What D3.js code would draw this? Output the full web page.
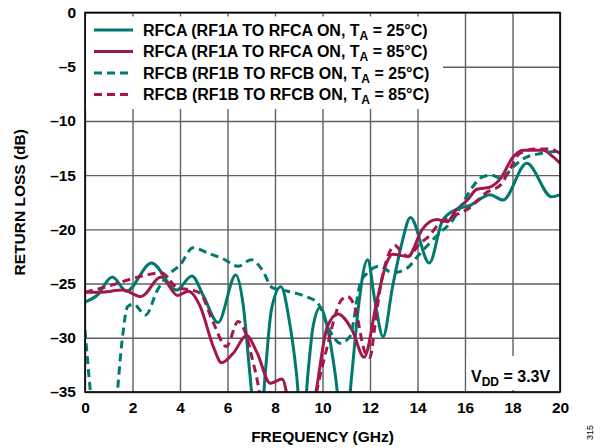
<!DOCTYPE html>
<html>
<head>
<meta charset="utf-8">
<script src="https://cdn.jsdelivr.net/npm/d3@7"></script>
<style>
  body { margin: 0; background: #fff; }
  svg text { font-family: "Liberation Sans", Arial, sans-serif; font-weight: bold; fill: #000; }
</style>
</head>
<body>
<script>
// Return loss vs frequency
const xTicks = [0, 2, 4, 6, 8, 10, 12, 14, 16, 18, 20];
const yTicks = [0, -5, -10, -15, -20, -25, -30, -35];

const legendNames = [
  'RFCA (RF1A TO RFCA ON, T',
  'RFCA (RF1A TO RFCA ON, T',
  'RFCB (RF1B TO RFCB ON, T',
  'RFCB (RF1B TO RFCB ON, T'
];
const legendTemps = ['25', '85', '25', '85'];

// [GHz, dB]; points below -35 are only there to shape the clipped dips
const rfcaOn25 = [
  [0, -26.7], [0.5, -26.1], [1.15, -24.4], [1.75, -25.7], [2.8, -23.1], [3.85, -25.6],
  [4.5, -24.3], [5.0, -26.2], [5.6, -28.6], [6.35, -24.2], [6.65, -26.8], [6.95, -33.5],
  [7.3, -41], [7.6, -33], [7.85, -27.4], [8.25, -25.3], [8.6, -28.4], [8.9, -33.2],
  [9.15, -39], [9.4, -33], [9.6, -29], [9.9, -27.2], [10.2, -29], [10.55, -33.6],
  [10.9, -40], [11.25, -33], [11.5, -27.4], [11.9, -22.8], [12.2, -26.5], [12.55, -29.9],
  [12.95, -25.3], [13.35, -21.2], [13.7, -18.9], [14.5, -23.1], [15.05, -19.2],
  [15.6, -18.2], [16.2, -17.8], [17.05, -16.8], [17.6, -17.3], [18.6, -13.9],
  [19.65, -17.0], [20, -16.8]
];
const rfcaOn85 = [
  [0, -25.8], [0.6, -25.8], [1.6, -25.6], [2.35, -26.2], [3.2, -24.4], [3.9, -26.1],
  [4.35, -25.7], [4.85, -27.1], [5.4, -30.8], [5.75, -32.3], [6.25, -31.4], [6.8, -29.8],
  [7.25, -31.4], [7.8, -34.2], [8.3, -33.8], [8.7, -37.5], [9.2, -40], [9.7, -35.3],
  [10.2, -29.0], [10.65, -27.8], [11.25, -29.3], [11.75, -31.8], [12.3, -26.5],
  [12.7, -23.1], [12.95, -22.3], [13.6, -22.5], [14.2, -20.0], [14.8, -19.1],
  [15.25, -19.3], [15.6, -18.3], [16.1, -17.3], [16.5, -16.3], [17.05, -16.1],
  [17.5, -15.3], [18.0, -13.4], [18.45, -12.7], [19.3, -12.7], [19.7, -13.3], [20, -13.9]
];
const rfcbOn25 = [
  [0, -29.3], [0.25, -35.5], [0.8, -45], [1.35, -35.3], [1.55, -30.5], [1.8, -27.1],
  [2.05, -26.9], [2.55, -27.9], [3.05, -25.6], [3.5, -24.2], [4.0, -23.3], [4.55, -21.7],
  [5.2, -22.2], [5.8, -22.7], [6.45, -23.4], [7.0, -22.8], [7.45, -23.7], [7.9, -25.4],
  [8.3, -25.6], [8.9, -25.9], [9.3, -26.2], [9.8, -26.8], [10.3, -29.3], [10.75, -30.5],
  [11.15, -29.9], [11.6, -24.9], [11.9, -24.0], [12.4, -23.4], [12.95, -24.0],
  [13.55, -23.6], [14.0, -22.5], [14.5, -21.3], [15.0, -20.2], [15.4, -19.4],
  [15.95, -17.4], [16.35, -16.0], [16.7, -15.2], [17.1, -15.0], [17.55, -15.3],
  [18.0, -14.3], [18.45, -13.5], [19.2, -13.0], [20, -12.8]
];
const rfcbOn85 = [
  [0, -25.8], [1.2, -25.1], [1.9, -24.6], [2.6, -24.2], [3.2, -24.0], [3.9, -25.4],
  [4.5, -25.6], [4.85, -25.9], [5.4, -28.6], [5.95, -30.8], [6.45, -28.5], [6.75, -29.5],
  [7.05, -32.0], [7.25, -33.9], [7.5, -37], [8.5, -42], [9.5, -38], [9.8, -34.5],
  [10.2, -30.8], [10.45, -28.6], [10.8, -26.5], [11.05, -26.2], [11.35, -27.1],
  [11.8, -31.4], [12.0, -31.8], [12.2, -29.0], [12.4, -25.8], [12.75, -22.5],
  [13.05, -21.5], [13.3, -22.0], [13.6, -22.5], [14.1, -21.3], [14.5, -20.6],
  [14.85, -19.6], [15.4, -18.9], [16.2, -18.0], [16.9, -16.6], [17.5, -15.9],
  [17.9, -14.4], [18.3, -13.0], [18.95, -12.6], [19.6, -12.6], [20, -13.0]
];

const TEAL = '#00796F';
const CRIMSON = '#A3184B';

const series = [
  { data: rfcaOn25, color: TEAL, dash: null },
  { data: rfcaOn85, color: CRIMSON, dash: null },
  { data: rfcbOn25, color: TEAL, dash: '8,5' },
  { data: rfcbOn85, color: CRIMSON, dash: '8,5' }
];

const plotLeft = 85, plotRight = 560, plotTop = 12.5, plotBottom = 392;

const x = d3.scaleLinear().domain([0, 20]).range([plotLeft, plotRight]);
const y = d3.scaleLinear().domain([0, -35]).range([plotTop, plotBottom]);

const svg = d3.select('body').append('svg')
  .attr('width', 600)
  .attr('height', 448);

// grid
const gx = svg.append('g')
  .attr('transform', 'translate(0,' + plotBottom + ')')
  .call(d3.axisBottom(x).tickValues(xTicks).tickSize(-(plotBottom - plotTop)).tickFormat(''));
const gy = svg.append('g')
  .attr('transform', 'translate(' + plotLeft + ',0)')
  .call(d3.axisLeft(y).tickValues(yTicks).tickSize(-(plotRight - plotLeft)).tickFormat(''));
[gx, gy].forEach(g => {
  g.select('.domain').remove();
  g.selectAll('line').attr('stroke', '#5f5f5f').attr('stroke-width', 1.4);
});

// white boxes behind legend and supply note
svg.append('rect').attr('x', plotLeft + 1).attr('y', 16.5).attr('width', 357).attr('height', 92.5).attr('fill', '#fff');
svg.append('rect').attr('x', 466.5).attr('y', 356).attr('width', 93).attr('height', 34).attr('fill', '#fff');

// curves
svg.append('clipPath').attr('id', 'plot')
  .append('rect').attr('x', plotLeft).attr('y', plotTop)
  .attr('width', plotRight - plotLeft).attr('height', plotBottom - plotTop);

const line = d3.line()
  .x(d => x(d[0]))
  .y(d => y(d[1]))
  .curve(d3.curveMonotoneX);

svg.append('g').attr('clip-path', 'url(#plot)')
  .selectAll('path')
  .data(series)
  .enter().append('path')
  .attr('d', d => line(d.data))
  .attr('fill', 'none')
  .attr('stroke', d => d.color)
  .attr('stroke-width', 3)
  .attr('stroke-dasharray', d => d.dash);

// frame
svg.append('rect')
  .attr('x', plotLeft).attr('y', plotTop)
  .attr('width', plotRight - plotLeft).attr('height', plotBottom - plotTop)
  .attr('fill', 'none').attr('stroke', '#000').attr('stroke-width', 1.6);

// tick labels
const ax = svg.append('g')
  .attr('transform', 'translate(0,' + plotBottom + ')')
  .call(d3.axisBottom(x).tickValues(xTicks).tickSize(0).tickPadding(10));
const ay = svg.append('g')
  .attr('transform', 'translate(' + plotLeft + ',0)')
  .call(d3.axisLeft(y).tickValues(yTicks).tickSize(0).tickPadding(9)
    .tickFormat(d => d === 0 ? '0' : '\u2013' + Math.abs(d)));
[ax, ay].forEach(g => {
  g.select('.domain').remove();
  g.selectAll('text').attr('font-size', 15.5).attr('fill', '#000')
    .style('font-family', '"Liberation Sans", Arial, sans-serif').style('font-weight', 'bold');
});

// axis titles
svg.append('text')
  .attr('x', (plotLeft + plotRight) / 2).attr('y', 442)
  .attr('text-anchor', 'middle').attr('font-size', 15.5)
  .text('FREQUENCY (GHz)');
svg.append('text')
  .attr('transform', 'translate(25,' + (plotTop + plotBottom) / 2 + ') rotate(-90)')
  .attr('text-anchor', 'middle').attr('font-size', 15.5)
  .text('RETURN LOSS (dB)');

// legend
const lg = svg.append('g')
  .selectAll('g')
  .data(series)
  .enter().append('g')
  .attr('transform', (d, i) => 'translate(0,' + (30 + i * 21.5) + ')');
lg.append('line')
  .attr('x1', 94).attr('x2', 133)
  .attr('stroke', d => d.color).attr('stroke-width', 3)
  .attr('stroke-dasharray', d => d.dash);
const lt = lg.append('text')
  .attr('x', 143).attr('y', 5.5).attr('font-size', 16);
lt.append('tspan').text((d, i) => legendNames[i]);
lt.append('tspan').attr('font-size', 12).attr('dy', 4).text('A');
lt.append('tspan').attr('dy', -4).text((d, i) => ' = ' + legendTemps[i] + '°C)');

// supply note
const vt = svg.append('text').attr('x', 471).attr('y', 382).attr('font-size', 16);
vt.append('tspan').text('V');
vt.append('tspan').attr('font-size', 12).attr('dy', 4).text('DD');
vt.append('tspan').attr('dy', -4).text(' = 3.3V');

// figure number
svg.append('text')
  .attr('transform', 'translate(593,440) rotate(-90)')
  .attr('font-size', 9).style('font-weight', 'normal').attr('fill', '#555')
  .text('315');
</script>
</body>
</html>
